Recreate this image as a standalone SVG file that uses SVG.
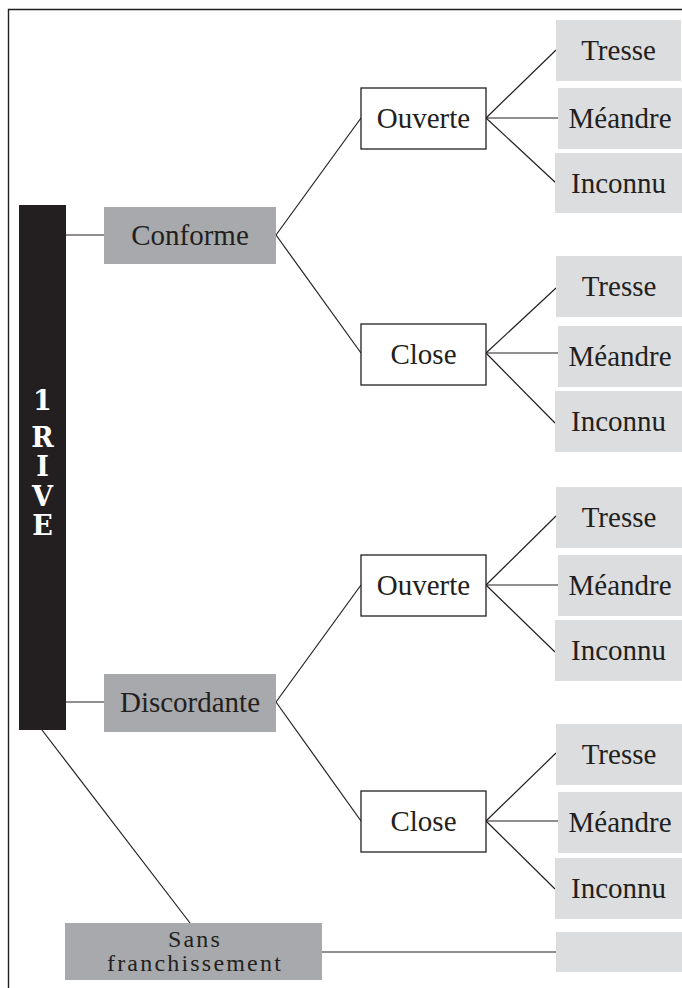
<svg xmlns="http://www.w3.org/2000/svg" width="682" height="988" viewBox="0 0 682 988">
<style>
.t{font-family:"Liberation Serif","Times New Roman",serif;font-size:29px;fill:#231f20;text-anchor:middle}
.dark{fill:#a7a9ac}
.light{fill:#dcdddf}
.mid{fill:#fff;stroke:#231f20;stroke-width:1.3}
.c line{stroke:#231f20;stroke-width:1.2}
.rive{font-family:"DejaVu Serif",serif;font-weight:bold;font-size:27px;fill:#fff;text-anchor:middle}
.s{font-family:"Liberation Serif","Times New Roman",serif;font-size:24px;letter-spacing:2.2px;fill:#231f20;text-anchor:middle}
</style>
<rect width="682" height="988" fill="#fff"/>
<path d="M8.5 988 V9.5 H682" fill="none" stroke="#231f20" stroke-width="1.4"/>
<g class="c" id="connectors">
<line x1="66" y1="235" x2="104" y2="235"/>
<line x1="66" y1="702" x2="104" y2="702"/>
<line x1="276" y1="235" x2="361" y2="118"/>
<line x1="276" y1="235" x2="361" y2="353"/>
<line x1="276" y1="702" x2="361" y2="585"/>
<line x1="276" y1="702" x2="361" y2="821"/>
<line x1="486" y1="118" x2="556" y2="50"/>
<line x1="486" y1="118" x2="558" y2="118"/>
<line x1="486" y1="118" x2="556" y2="183"/>
<line x1="486" y1="353" x2="556" y2="288"/>
<line x1="486" y1="353" x2="558" y2="353"/>
<line x1="486" y1="353" x2="555" y2="423"/>
<line x1="486" y1="585" x2="556" y2="516"/>
<line x1="486" y1="585" x2="558" y2="585"/>
<line x1="486" y1="585" x2="555" y2="652"/>
<line x1="486" y1="821" x2="556" y2="753"/>
<line x1="486" y1="821" x2="558" y2="821"/>
<line x1="486" y1="821" x2="555" y2="889"/>
<line x1="42" y1="730" x2="190" y2="923"/>
<line x1="322" y1="952" x2="556" y2="952"/>
</g>
<g id="rive">
<rect x="19" y="205" width="47" height="525" fill="#231f20"/>
<text class="rive" x="42.5" y="410">1</text>
<text class="rive" x="42.5" y="447">R</text>
<text class="rive" x="42.5" y="476">I</text>
<text class="rive" x="42.5" y="506">V</text>
<text class="rive" x="42.5" y="535">E</text>
</g>
<g id="conforme"><rect class="dark" x="104" y="207" width="172" height="57"/><text class="t" x="190" y="245">Conforme</text></g>
<g id="discordante"><rect class="dark" x="104" y="674" width="172" height="58"/><text class="t" x="190" y="712">Discordante</text></g>
<g id="sans"><rect class="dark" x="65" y="923" width="257" height="57"/><text class="s" x="195" y="947">Sans</text><text class="s" x="195" y="971">franchissement</text></g>
<g id="empty"><rect class="light" x="556" y="932" width="126" height="40"/></g>
<g id="ouverte1"><rect class="mid" x="361" y="88" width="125" height="61"/><text class="t" x="423.5" y="128">Ouverte</text></g>
<g id="close1"><rect class="mid" x="361" y="324" width="125" height="61"/><text class="t" x="423.5" y="364">Close</text></g>
<g id="ouverte2"><rect class="mid" x="361" y="555" width="125" height="61"/><text class="t" x="423.5" y="595">Ouverte</text></g>
<g id="close2"><rect class="mid" x="361" y="791" width="125" height="61"/><text class="t" x="423.5" y="831">Close</text></g>
<g id="tresse1"><rect class="light" x="556" y="20" width="125" height="61"/><text class="t" x="618.5" y="60">Tresse</text></g>
<g id="meandre1"><rect class="light" x="558" y="88" width="124" height="61"/><text class="t" x="620" y="128">Méandre</text></g>
<g id="inconnu1"><rect class="light" x="555" y="153" width="127" height="60"/><text class="t" x="618.5" y="192.5">Inconnu</text></g>
<g id="tresse2"><rect class="light" x="556" y="256" width="126" height="61"/><text class="t" x="619" y="296">Tresse</text></g>
<g id="meandre2"><rect class="light" x="558" y="326" width="124" height="61"/><text class="t" x="620" y="366">Méandre</text></g>
<g id="inconnu2"><rect class="light" x="555" y="391" width="127" height="61"/><text class="t" x="618.5" y="431">Inconnu</text></g>
<g id="tresse3"><rect class="light" x="556" y="487" width="126" height="61"/><text class="t" x="619" y="527">Tresse</text></g>
<g id="meandre3"><rect class="light" x="558" y="555" width="124" height="61"/><text class="t" x="620" y="595">Méandre</text></g>
<g id="inconnu3"><rect class="light" x="555" y="620" width="127" height="61"/><text class="t" x="618.5" y="660">Inconnu</text></g>
<g id="tresse4"><rect class="light" x="556" y="724" width="126" height="61"/><text class="t" x="619" y="764">Tresse</text></g>
<g id="meandre4"><rect class="light" x="558" y="792" width="124" height="61"/><text class="t" x="620" y="832">Méandre</text></g>
<g id="inconnu4"><rect class="light" x="555" y="858" width="127" height="61"/><text class="t" x="618.5" y="898">Inconnu</text></g>
</svg>
